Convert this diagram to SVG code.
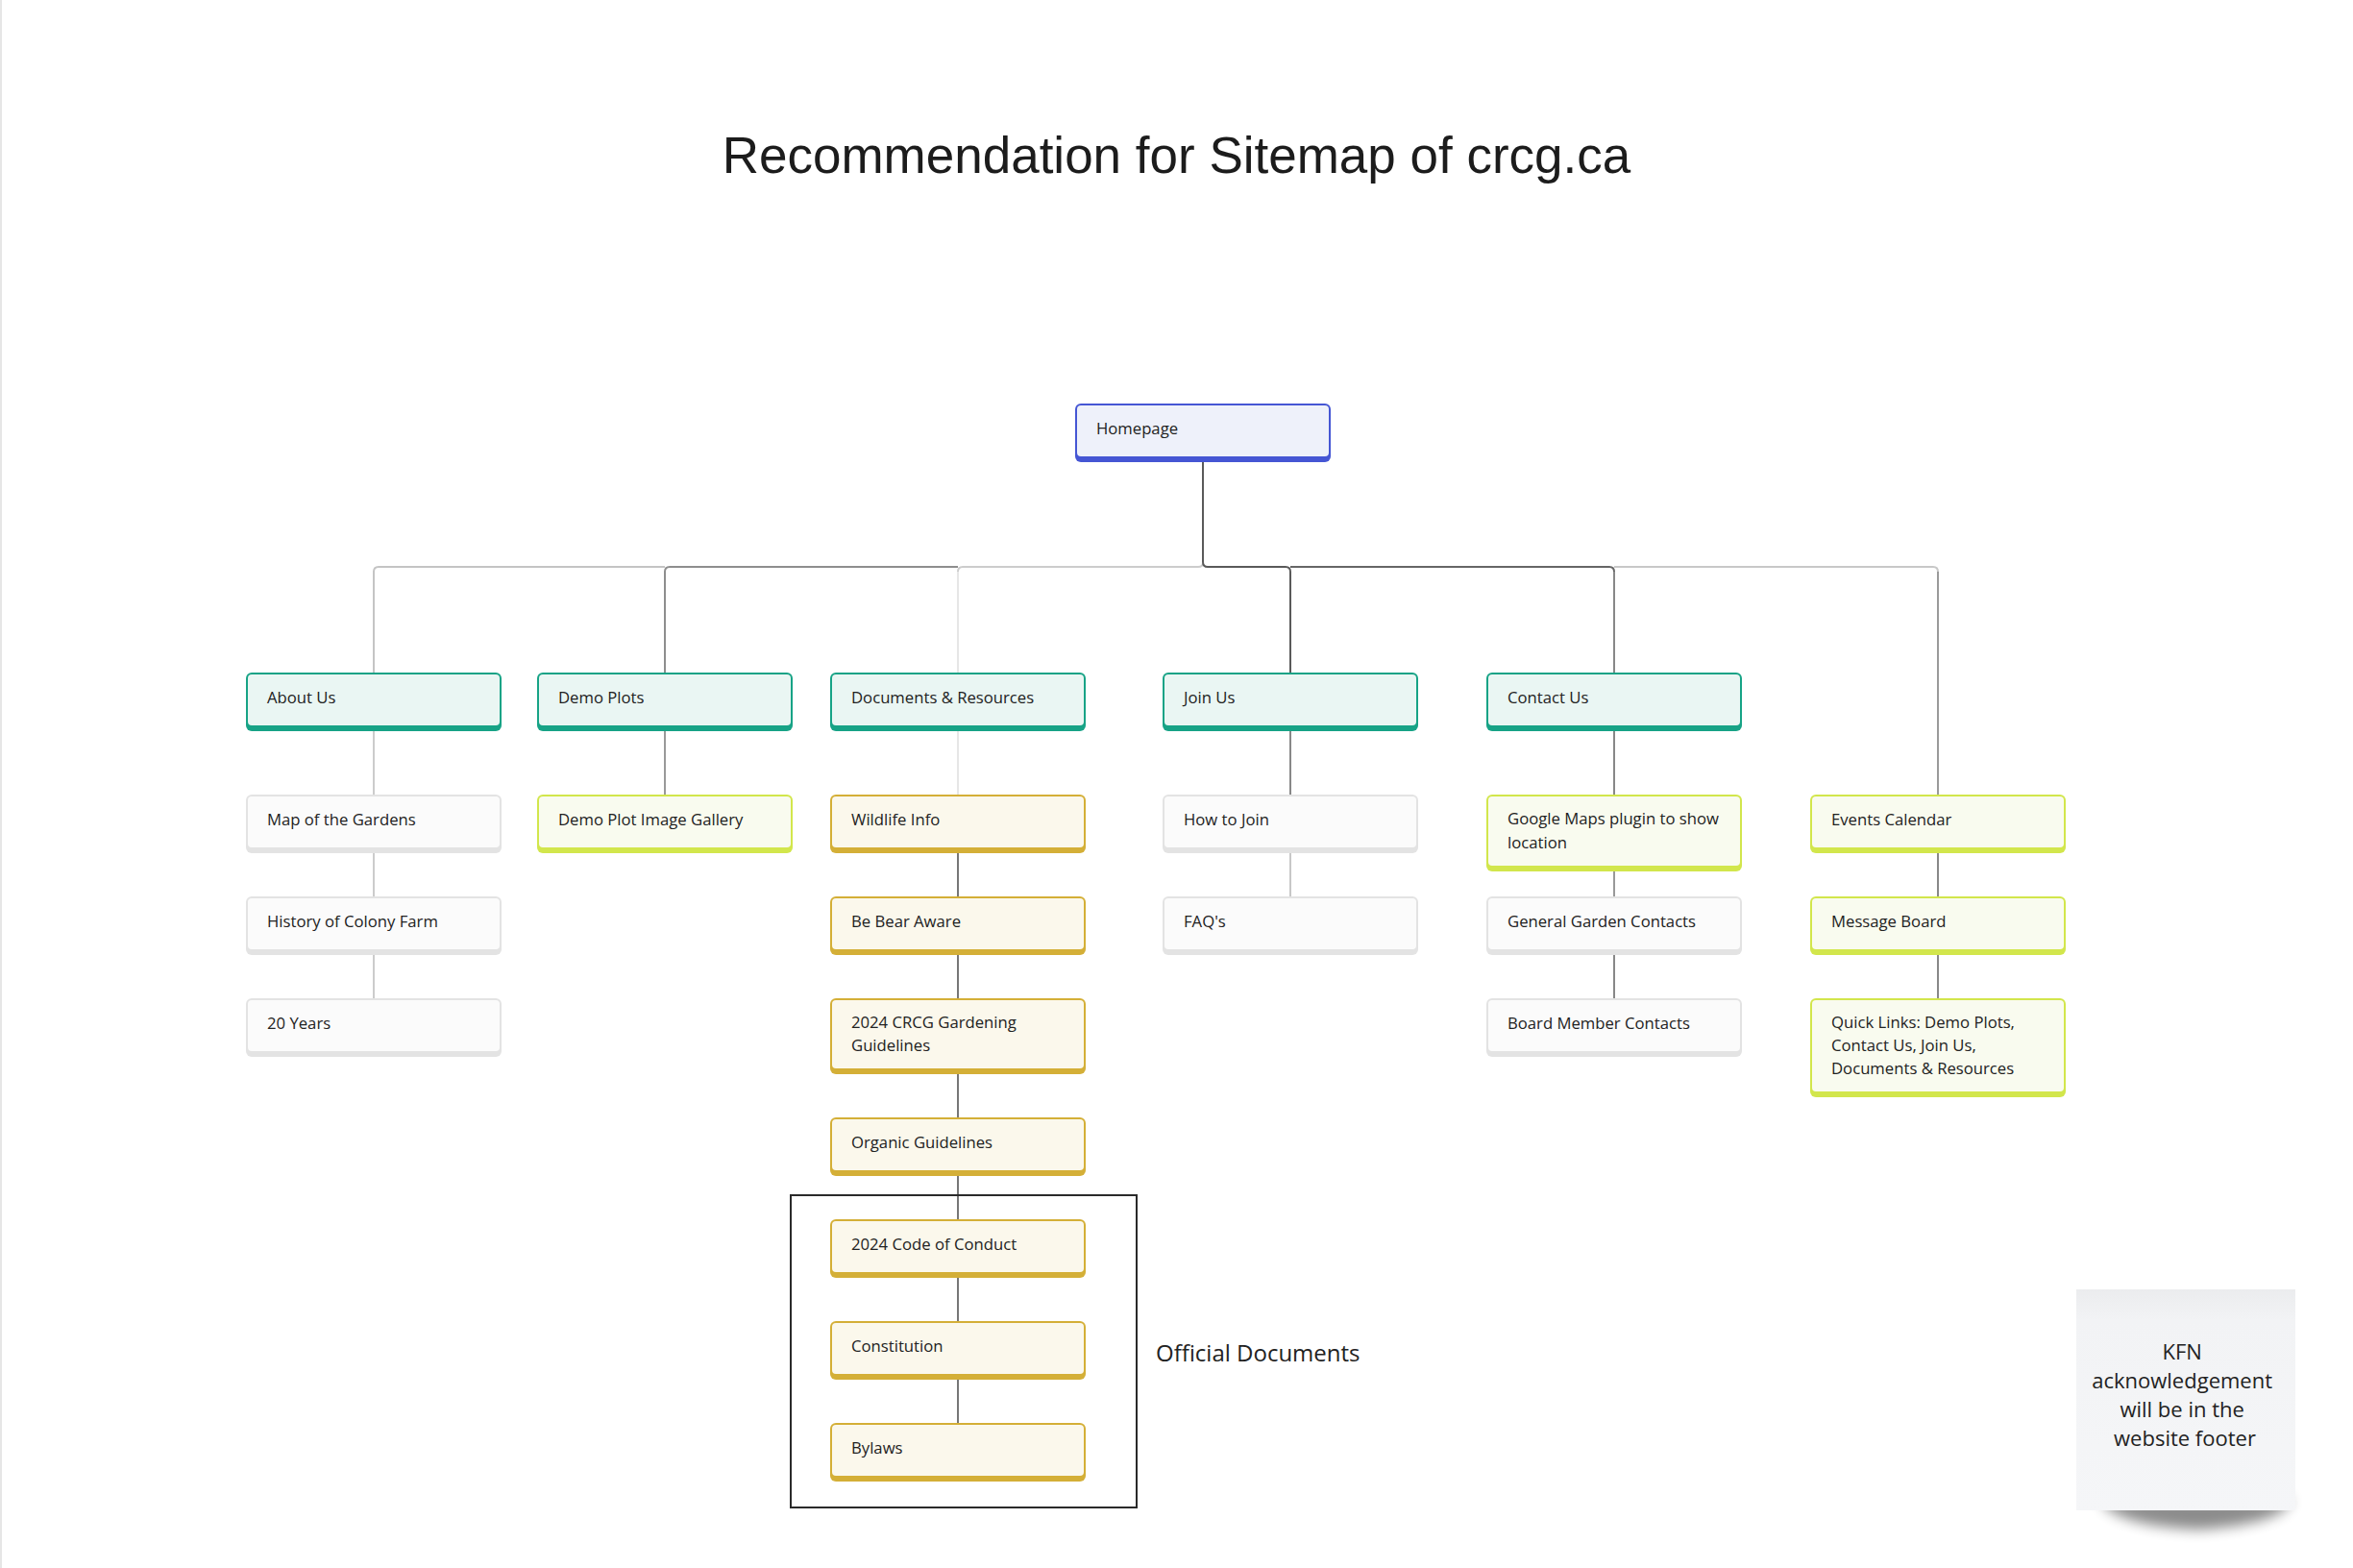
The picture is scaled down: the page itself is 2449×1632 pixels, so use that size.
<svg xmlns="http://www.w3.org/2000/svg" width="2449" height="1632" viewBox="0 0 2449 1632">
<defs>
<style>
.t{font-family:"Open Sans","Noto Sans","DejaVu Sans",sans-serif;font-size:16.7px;fill:#222}
.title{font-family:"Liberation Sans",Arial,sans-serif;font-size:53px;fill:#1c1c1c}
.blue-b{fill:#4556d4}.blue-f{fill:#eef1fa}
.teal-b{fill:#17a386}.teal-f{fill:#eaf6f3}
.grey-b{fill:#e3e3e3}.grey-f{fill:#fbfbfb}
.lime-b{fill:#d2e64c}.lime-f{fill:#f9fbef}
.gold-b{fill:#d4af37}.gold-f{fill:#fbf8ec}
.c{fill:none;stroke-width:2}
</style>
<linearGradient id="note" x1="0" y1="0" x2="0" y2="1">
<stop offset="0" stop-color="#ebecee"/>
<stop offset="0.14" stop-color="#f2f3f5"/>
<stop offset="1" stop-color="#f5f6f8"/>
</linearGradient>
<filter id="blur" x="-20%" y="-100%" width="140%" height="300%">
<feGaussianBlur stdDeviation="7"/>
</filter>
</defs>
<rect x="0" y="0" width="2449" height="1632" fill="#ffffff"/>
<line x1="1" y1="0" x2="1" y2="1632" stroke="#e6e6e6" stroke-width="2"/>

<text class="title" x="1224.5" y="180" text-anchor="middle">Recommendation for Sitemap of crcg.ca</text>

<g id="connectors">
<path class="c" stroke="#c4c4c4" d="M389 700 V595 Q389 590 394 590 H692"/>
<path class="c" stroke="#8e8e8e" d="M692 700 V595 Q692 590 697 590 H997"/>
<path class="c" stroke="#e6e6e6" d="M997 700 V595"/>
<path class="c" stroke="#cccccc" d="M997 595 Q997 590 1002 590 H1247 Q1252 590 1252 586"/>
<path class="c" stroke="#5a5a5a" d="M1252 480 V585 Q1252 590 1257 590 H1338 Q1343 590 1343 595 V700"/>
<path class="c" stroke="#666666" d="M1343 590 H1675 Q1680 590 1680 595"/>
<path class="c" stroke="#888888" d="M1680 595 V700"/>
<path class="c" stroke="#c8c8c8" d="M1680 590 H2012 Q2017 590 2017 595"/>
<path class="c" stroke="#9a9a9a" d="M2017 595 V827"/>
<path class="c" stroke="#cccccc" d="M389 761 V827 M389 888 V933 M389 994 V1039"/>
<path class="c" stroke="#999999" d="M692 761 V827"/>
<path class="c" stroke="#e6e6e6" d="M997 761 V827"/>
<path class="c" stroke="#777777" d="M997 888 V933 M997 994 V1039 M997 1118 V1163 M997 1224 V1269 M997 1330 V1375 M997 1436 V1481"/>
<path class="c" stroke="#888888" d="M1343 761 V827"/>
<path class="c" stroke="#c8c8c8" d="M1343 888 V933"/>
<path class="c" stroke="#888888" d="M1680 761 V827 M1680 994 V1039"/>
<path class="c" stroke="#999999" d="M1680 907 V933"/>
<path class="c" stroke="#888888" d="M2017 888 V933 M2017 994 V1039"/>
</g>

<g id="homepage"><rect class="blue-b" x="1119" y="420" width="266" height="61" rx="6"/><rect class="blue-f" x="1121" y="422" width="262" height="53" rx="4"/><text class="t" x="1141" y="452">Homepage</text></g>

<g id="about-us"><rect class="teal-b" x="256" y="700" width="266" height="61" rx="6"/><rect class="teal-f" x="258" y="702" width="262" height="53" rx="4"/><text class="t" x="278" y="732">About Us</text></g>
<g id="demo-plots"><rect class="teal-b" x="559" y="700" width="266" height="61" rx="6"/><rect class="teal-f" x="561" y="702" width="262" height="53" rx="4"/><text class="t" x="581" y="732">Demo Plots</text></g>
<g id="documents-resources"><rect class="teal-b" x="864" y="700" width="266" height="61" rx="6"/><rect class="teal-f" x="866" y="702" width="262" height="53" rx="4"/><text class="t" x="886" y="732">Documents &amp; Resources</text></g>
<g id="join-us"><rect class="teal-b" x="1210" y="700" width="266" height="61" rx="6"/><rect class="teal-f" x="1212" y="702" width="262" height="53" rx="4"/><text class="t" x="1232" y="732">Join Us</text></g>
<g id="contact-us"><rect class="teal-b" x="1547" y="700" width="266" height="61" rx="6"/><rect class="teal-f" x="1549" y="702" width="262" height="53" rx="4"/><text class="t" x="1569" y="732">Contact Us</text></g>

<g id="map-gardens"><rect class="grey-b" x="256" y="827" width="266" height="61" rx="6"/><rect class="grey-f" x="258" y="829" width="262" height="53" rx="4"/><text class="t" x="278" y="859">Map of the Gardens</text></g>
<g id="history"><rect class="grey-b" x="256" y="933" width="266" height="61" rx="6"/><rect class="grey-f" x="258" y="935" width="262" height="53" rx="4"/><text class="t" x="278" y="965">History of Colony Farm</text></g>
<g id="twenty-years"><rect class="grey-b" x="256" y="1039" width="266" height="61" rx="6"/><rect class="grey-f" x="258" y="1041" width="262" height="53" rx="4"/><text class="t" x="278" y="1071">20 Years</text></g>

<g id="demo-gallery"><rect class="lime-b" x="559" y="827" width="266" height="61" rx="6"/><rect class="lime-f" x="561" y="829" width="262" height="53" rx="4"/><text class="t" x="581" y="859">Demo Plot Image Gallery</text></g>

<g id="wildlife"><rect class="gold-b" x="864" y="827" width="266" height="61" rx="6"/><rect class="gold-f" x="866" y="829" width="262" height="53" rx="4"/><text class="t" x="886" y="859">Wildlife Info</text></g>
<g id="bear-aware"><rect class="gold-b" x="864" y="933" width="266" height="61" rx="6"/><rect class="gold-f" x="866" y="935" width="262" height="53" rx="4"/><text class="t" x="886" y="965">Be Bear Aware</text></g>
<g id="gardening-guidelines"><rect class="gold-b" x="864" y="1039" width="266" height="79" rx="6"/><rect class="gold-f" x="866" y="1041" width="262" height="71" rx="4"/><text class="t" x="886" y="1070">2024 CRCG Gardening</text><text class="t" x="886" y="1094">Guidelines</text></g>
<g id="organic"><rect class="gold-b" x="864" y="1163" width="266" height="61" rx="6"/><rect class="gold-f" x="866" y="1165" width="262" height="53" rx="4"/><text class="t" x="886" y="1195">Organic Guidelines</text></g>
<g id="code-of-conduct"><rect class="gold-b" x="864" y="1269" width="266" height="61" rx="6"/><rect class="gold-f" x="866" y="1271" width="262" height="53" rx="4"/><text class="t" x="886" y="1301">2024 Code of Conduct</text></g>
<g id="constitution"><rect class="gold-b" x="864" y="1375" width="266" height="61" rx="6"/><rect class="gold-f" x="866" y="1377" width="262" height="53" rx="4"/><text class="t" x="886" y="1407">Constitution</text></g>
<g id="bylaws"><rect class="gold-b" x="864" y="1481" width="266" height="61" rx="6"/><rect class="gold-f" x="866" y="1483" width="262" height="53" rx="4"/><text class="t" x="886" y="1513">Bylaws</text></g>

<g id="how-to-join"><rect class="grey-b" x="1210" y="827" width="266" height="61" rx="6"/><rect class="grey-f" x="1212" y="829" width="262" height="53" rx="4"/><text class="t" x="1232" y="859">How to Join</text></g>
<g id="faqs"><rect class="grey-b" x="1210" y="933" width="266" height="61" rx="6"/><rect class="grey-f" x="1212" y="935" width="262" height="53" rx="4"/><text class="t" x="1232" y="965">FAQ's</text></g>

<g id="google-maps"><rect class="lime-b" x="1547" y="827" width="266" height="80" rx="6"/><rect class="lime-f" x="1549" y="829" width="262" height="72" rx="4"/><text class="t" x="1569" y="858">Google Maps plugin to show</text><text class="t" x="1569" y="883">location</text></g>
<g id="general-contacts"><rect class="grey-b" x="1547" y="933" width="266" height="61" rx="6"/><rect class="grey-f" x="1549" y="935" width="262" height="53" rx="4"/><text class="t" x="1569" y="965">General Garden Contacts</text></g>
<g id="board-contacts"><rect class="grey-b" x="1547" y="1039" width="266" height="61" rx="6"/><rect class="grey-f" x="1549" y="1041" width="262" height="53" rx="4"/><text class="t" x="1569" y="1071">Board Member Contacts</text></g>

<g id="events-calendar"><rect class="lime-b" x="1884" y="827" width="266" height="61" rx="6"/><rect class="lime-f" x="1886" y="829" width="262" height="53" rx="4"/><text class="t" x="1906" y="859">Events Calendar</text></g>
<g id="message-board"><rect class="lime-b" x="1884" y="933" width="266" height="61" rx="6"/><rect class="lime-f" x="1886" y="935" width="262" height="53" rx="4"/><text class="t" x="1906" y="965">Message Board</text></g>
<g id="quick-links"><rect class="lime-b" x="1884" y="1039" width="266" height="103" rx="6"/><rect class="lime-f" x="1886" y="1041" width="262" height="95" rx="4"/><text class="t" x="1906" y="1070">Quick Links: Demo Plots,</text><text class="t" x="1906" y="1094">Contact Us, Join Us,</text><text class="t" x="1906" y="1118">Documents &amp; Resources</text></g>

<g id="official-documents">
<rect x="823" y="1244" width="360" height="325" fill="none" stroke="#2a2a2a" stroke-width="2"/>
<text x="1203" y="1417" font-family="'Open Sans','Noto Sans',sans-serif" font-size="24" fill="#222">Official Documents</text>
</g>

<g id="sticky-note">
<path d="M2185 1560 H2385 Q2380 1585 2290 1592 Q2200 1588 2185 1560 Z" fill="#000" opacity="0.45" filter="url(#blur)"/>
<rect x="2161" y="1342" width="228" height="230" fill="url(#note)"/>
<text font-family="'Open Sans','Noto Sans',sans-serif" font-size="22" fill="#222" text-anchor="middle">
<tspan x="2274" y="1415">KFN</tspan>
<tspan x="2274" y="1445">acknowledgement</tspan>
<tspan x="2274" y="1475">will be in the</tspan>
<tspan x="2274" y="1505">website footer</tspan>
</text>
</g>
</svg>
